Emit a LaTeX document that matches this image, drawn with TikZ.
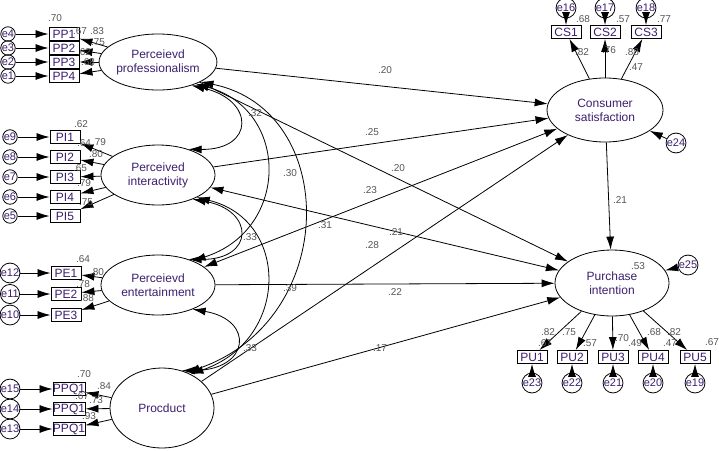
\documentclass[tikz,border=0pt]{standalone}
\usepackage{fontspec}
\setmainfont{Liberation Sans}
\usetikzlibrary{shapes.geometric,arrows.meta}
\definecolor{txt}{HTML}{3C1E6E}
\definecolor{num}{HTML}{555555}
\begin{document}
\begin{tikzpicture}[x=1pt,y=-1pt,
  lat/.style={ellipse,draw,line width=0.8pt,minimum width=#1,text=txt,font=\fontsize{12}{14}\selectfont,align=center,inner sep=0pt},
  ind/.style={draw,line width=0.9pt,minimum width=30pt,minimum height=13pt,inner sep=0pt,text=txt,font=\fontsize{12}{13}\selectfont},
  err/.style={circle,draw,line width=0.8pt,minimum size=13pt,inner sep=0pt,text=txt,font=\fontsize{11}{11}\selectfont},
  lb/.style={text=num,font=\fontsize{10}{11}\selectfont,inner sep=0pt},
  ar/.style={-{Latex[length=13pt,width=8pt]},line width=0.8pt},
  dar/.style={{Latex[length=13pt,width=8pt]}-{Latex[length=13pt,width=8pt]},line width=0.8pt}]
\useasboundingbox (0,0) rectangle (719,450);
% latent
\node[lat=110pt,minimum height=56pt] (PP) at (158,62) {Perceievd\\professionalism};
\node[lat=114pt,minimum height=60pt] (PI) at (158,175) {Perceived\\interactivity};
\node[lat=114pt,minimum height=60pt] (PE) at (158,285) {Perceievd\\entertainment};
\node[lat=104pt,minimum height=80pt] (PR) at (162,408) {Procduct};
\node[lat=116pt,minimum height=64pt] (CS) at (605,110) {Consumer\\satisfaction};
\node[lat=114pt,minimum height=66pt] (PU) at (612,283) {Purchase\\intention};
% indicators
\foreach \i/\y/\e in {1/34/e4,2/48/e3,3/62/e2,4/76/e1}{
  \node[ind] (PP\i) at (64,\y) {PP\i};
  \node[err] (E\e) at (8,\y) {\e};
  \draw[ar] (E\e) -- (PP\i);
  \draw[ar] (PP) -- (PP\i);}
\foreach \i/\y/\e in {1/137/e9,2/157/e8,3/177/e7,4/197/e6,5/216/e5}{
  \node[ind] (PI\i) at (65,\y) {PI\i};
  \node[err] (E\e) at (10,\y) {\e};
  \draw[ar] (E\e) -- (PI\i);
  \draw[ar] (PI) -- (PI\i);}
\foreach \i/\y/\e in {1/273/e12,2/294/e11,3/315/e10}{
  \node[ind] (PE\i) at (66,\y) {PE\i};
  \node[err] (E\e) at (10,\y) {\e};
  \draw[ar] (E\e) -- (PE\i);
  \draw[ar] (PE) -- (PE\i);}
\foreach \i/\y/\e in {1/389/e15,2/409/e14,3/429/e13}{
  \node[ind] (PQ\i) at (69,\y) {PPQ1};
  \node[err] (E\e) at (10,\y) {\e};
  \draw[ar] (E\e) -- (PQ\i);
  \draw[ar] (PR) -- (PQ\i);}
\foreach \i/\x/\e in {1/566/e16,2/605/e17,3/646/e18}{
  \node[ind] (CS\i) at (\x,32) {CS\i};
  \node[err] (E\e) at (\x,8) {\e};
  \draw[ar] (E\e) -- (CS\i);
  \draw[ar] (CS) -- (CS\i);}
\foreach \i/\x/\e in {1/532/e23,2/572/e22,3/613/e21,4/653/e20,5/695/e19}{
  \node[ind] (PU\i) at (\x,357) {PU\i};
  \node[err] (E\e) at (\x,383) {\e};
  \draw[ar] (E\e) -- (PU\i);
  \draw[ar] (PU) -- (PU\i);}
\node[err] (E24) at (676,143) {e24};
\node[err] (E25) at (688,265) {e25};
\draw[ar] (E24) -- (CS);
\draw[ar] (E25) -- (PU);
% structural paths
\draw[ar] (PP) -- (CS);
\draw[ar] (PP) -- (PU);
\draw[ar] (PI) -- (CS);
\draw[dar] (PI) -- (PU);
\draw[dar] (PE) -- (CS);
\draw[ar] (PE) -- (PU);
\draw[ar] (PR) -- (CS);
\draw[ar] (PR) -- (PU);
\draw[ar] (CS) -- (PU);
% covariances (bulging right)
\draw[dar] (PP.-35) .. controls (255,100) and (255,150) .. (PI.40);
\draw[dar] (PP.-30) .. controls (290,110) and (290,230) .. (PE.35);
\draw[dar] (PP.-25) .. controls (340,110) and (340,320) .. (PR.55);
\draw[dar] (PI.-35) .. controls (255,210) and (255,260) .. (PE.40);
\draw[dar] (PI.-30) .. controls (290,220) and (290,340) .. (PR.50);
\draw[dar] (PE.-35) .. controls (255,320) and (250,370) .. (PR.62);
% labels
\foreach \t/\x/\y in {.70/55/18,.67/80/31,.83/97/31,.75/98/42,.62/84/52,.68/88/62,
 .62/81/124,.64/84/143,.79/99/142,.80/96/154,.65/80/168,.79/84/183,.75/86/202,
 .64/83/259,.80/97/272,.78/83/284,.88/87/298,
 .70/84/374,.84/104/386,.67/82/396,.73/96/400,.93/89/416,
 .68/583/19,.57/623/19,.77/664/19,.82/582/52,.76/609/50,.88/632/52,.47/636/67,
 .53/638/266,.82/548/332,.67/545/343,.75/569/332,.57/590/343,.70/622/338,.49/635/343,
 .68/654/332,.47/670/343,.82/674/332,.67/712/342,
 .20/385/70,.25/372/132,.20/398/168,.23/370/190,.21/396/232,.28/372/245,.22/395/292,.17/380/348,.21/620/200,
 .32/255/113,.30/290/173,.33/250/237,.31/325/225,.39/290/288,.33/250/348}
 \node[lb] at (\x,\y) {\t};
\end{tikzpicture}
\end{document}
